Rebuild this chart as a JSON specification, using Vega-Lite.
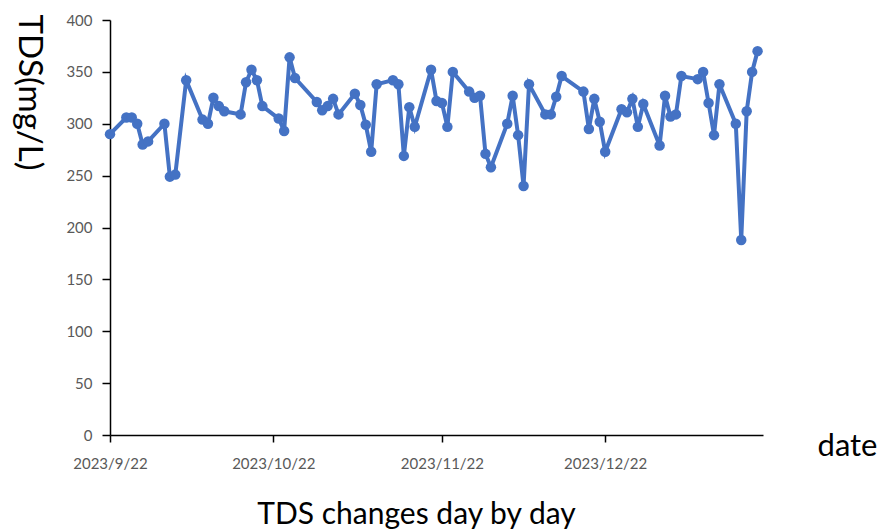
{
  "$schema": "https://vega.github.io/schema/vega-lite/v6.json",
  "width": 653,
  "height": 415,
  "autosize": {"type": "none"},
  "padding": {"left": 110, "top": 20, "right": 121, "bottom": 96},
  "background": "white",
  "config": {
    "view": {"stroke": null},
    "font": "Lato"
  },
  "title": {
    "text": "TDS changes day by day",
    "orient": "bottom",
    "anchor": "middle",
    "frame": "group",
    "baseline": "alphabetic",
    "offset": 53,
    "dx": -20,
    "font": "Lato",
    "fontSize": 30,
    "fontWeight": "normal",
    "color": "#000000"
  },
  "data": {
    "values": [
      {"date": "2023-09-22", "tds": 290},
      {"date": "2023-09-25", "tds": 306},
      {"date": "2023-09-26", "tds": 306},
      {"date": "2023-09-27", "tds": 300},
      {"date": "2023-09-28", "tds": 280},
      {"date": "2023-09-29", "tds": 283},
      {"date": "2023-10-02", "tds": 300},
      {"date": "2023-10-03", "tds": 249},
      {"date": "2023-10-04", "tds": 251},
      {"date": "2023-10-06", "tds": 342},
      {"date": "2023-10-09", "tds": 304},
      {"date": "2023-10-10", "tds": 300},
      {"date": "2023-10-11", "tds": 325},
      {"date": "2023-10-12", "tds": 317},
      {"date": "2023-10-13", "tds": 312},
      {"date": "2023-10-16", "tds": 309},
      {"date": "2023-10-17", "tds": 340},
      {"date": "2023-10-18", "tds": 352},
      {"date": "2023-10-19", "tds": 342},
      {"date": "2023-10-20", "tds": 317},
      {"date": "2023-10-23", "tds": 305},
      {"date": "2023-10-24", "tds": 293},
      {"date": "2023-10-25", "tds": 364},
      {"date": "2023-10-26", "tds": 344},
      {"date": "2023-10-30", "tds": 321},
      {"date": "2023-10-31", "tds": 313},
      {"date": "2023-11-01", "tds": 317},
      {"date": "2023-11-02", "tds": 324},
      {"date": "2023-11-03", "tds": 309},
      {"date": "2023-11-06", "tds": 329},
      {"date": "2023-11-07", "tds": 318},
      {"date": "2023-11-08", "tds": 299},
      {"date": "2023-11-09", "tds": 273},
      {"date": "2023-11-10", "tds": 338},
      {"date": "2023-11-13", "tds": 342},
      {"date": "2023-11-14", "tds": 338},
      {"date": "2023-11-15", "tds": 269},
      {"date": "2023-11-16", "tds": 316},
      {"date": "2023-11-17", "tds": 297},
      {"date": "2023-11-20", "tds": 352},
      {"date": "2023-11-21", "tds": 322},
      {"date": "2023-11-22", "tds": 320},
      {"date": "2023-11-23", "tds": 297},
      {"date": "2023-11-24", "tds": 350},
      {"date": "2023-11-27", "tds": 331},
      {"date": "2023-11-28", "tds": 325},
      {"date": "2023-11-29", "tds": 327},
      {"date": "2023-11-30", "tds": 271},
      {"date": "2023-12-01", "tds": 258},
      {"date": "2023-12-04", "tds": 300},
      {"date": "2023-12-05", "tds": 327},
      {"date": "2023-12-06", "tds": 289},
      {"date": "2023-12-07", "tds": 240},
      {"date": "2023-12-08", "tds": 338},
      {"date": "2023-12-11", "tds": 309},
      {"date": "2023-12-12", "tds": 309},
      {"date": "2023-12-13", "tds": 326},
      {"date": "2023-12-14", "tds": 346},
      {"date": "2023-12-18", "tds": 331},
      {"date": "2023-12-19", "tds": 295},
      {"date": "2023-12-20", "tds": 324},
      {"date": "2023-12-21", "tds": 302},
      {"date": "2023-12-22", "tds": 273},
      {"date": "2023-12-25", "tds": 314},
      {"date": "2023-12-26", "tds": 311},
      {"date": "2023-12-27", "tds": 324},
      {"date": "2023-12-28", "tds": 297},
      {"date": "2023-12-29", "tds": 319},
      {"date": "2024-01-01", "tds": 279},
      {"date": "2024-01-02", "tds": 327},
      {"date": "2024-01-03", "tds": 307},
      {"date": "2024-01-04", "tds": 309},
      {"date": "2024-01-05", "tds": 346},
      {"date": "2024-01-08", "tds": 343},
      {"date": "2024-01-09", "tds": 350},
      {"date": "2024-01-10", "tds": 320},
      {"date": "2024-01-11", "tds": 289},
      {"date": "2024-01-12", "tds": 338},
      {"date": "2024-01-15", "tds": 300},
      {"date": "2024-01-16", "tds": 188},
      {"date": "2024-01-17", "tds": 312},
      {"date": "2024-01-18", "tds": 350},
      {"date": "2024-01-19", "tds": 370}
    ]
  },
  "encoding": {
    "x": {
      "field": "date",
      "type": "temporal",
      "scale": {
        "type": "utc",
        "domain": [
          {"year": 2023, "month": 9, "date": 22, "utc": true},
          {"year": 2024, "month": 1, "date": 20, "utc": true}
        ]
      },
      "axis": {
        "title": "date",
        "titleFont": "Lato",
        "titleFontSize": 31,
        "titleFontWeight": "normal",
        "titleColor": "#000000",
        "titleAlign": "center",
        "titleBaseline": "alphabetic",
        "titleX": 737,
        "titleY": 20,
        "values": [
          {"year": 2023, "month": 9, "date": 22, "utc": true},
          {"year": 2023, "month": 10, "date": 22, "utc": true},
          {"year": 2023, "month": 11, "date": 22, "utc": true},
          {"year": 2023, "month": 12, "date": 22, "utc": true}
        ],
        "format": "%Y/%-m/%-d",
        "labelFont": "Lato",
        "labelFontSize": 15,
        "labelColor": "#595959",
        "labelPadding": 14,
        "labelFlush": false,
        "labelOverlap": false,
        "grid": false,
        "domainColor": "#000000",
        "domainWidth": 1.5,
        "tickColor": "#000000",
        "tickWidth": 1.5,
        "tickSize": 7
      }
    },
    "y": {
      "field": "tds",
      "type": "quantitative",
      "scale": {"domain": [0, 400], "nice": false, "zero": true},
      "axis": {
        "title": "TDS(mg/L)",
        "titleFont": "Lato",
        "titleFontSize": 33,
        "titleFontWeight": "normal",
        "titleColor": "#000000",
        "titleAngle": 90,
        "titleAlign": "center",
        "titleBaseline": "middle",
        "titleX": -82,
        "titleY": 72,
        "values": [0, 50, 100, 150, 200, 250, 300, 350, 400],
        "labelFont": "Lato",
        "labelFontSize": 15,
        "labelColor": "#595959",
        "labelPadding": 10,
        "grid": false,
        "domainColor": "#000000",
        "domainWidth": 1.5,
        "tickColor": "#000000",
        "tickWidth": 1.5,
        "tickSize": 8
      }
    }
  },
  "layer": [
    {"mark": {"type": "line", "color": "#4472C4", "strokeWidth": 4}},
    {"mark": {"type": "circle", "color": "#4472C4", "opacity": 1, "size": 110}}
  ]
}
